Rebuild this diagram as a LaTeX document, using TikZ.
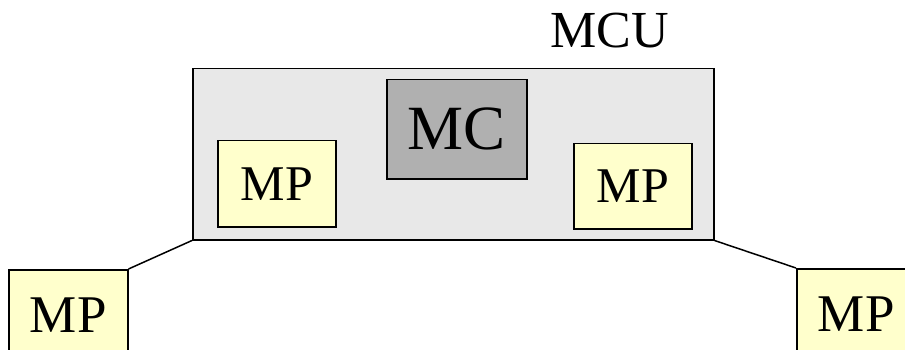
\documentclass[tikz,border=0pt]{standalone}
\usepackage{fontspec}
\setmainfont{Liberation Serif}
\definecolor{mcugray}{HTML}{E8E8E8}
\definecolor{mcgray}{HTML}{B0B0B0}
\definecolor{mpyellow}{HTML}{FFFFCC}
\begin{document}
\begin{tikzpicture}[x=1pt,y=-1pt,
  box/.style={draw,line width=1.5pt,inner sep=0pt,anchor=north west},
  mpbox/.style={box,fill=mpyellow},
  link/.style={line width=1.5pt}]
\useasboundingbox (0,0) rectangle (905,350);
\clip (0,0) rectangle (905,350);
\node[box,fill=mcugray,minimum width=521pt,minimum height=171pt] (mcu) at (192,68) {};
\node[anchor=base,font=\fontsize{52}{52}\selectfont] (mculabel) at (610,48) {MCU};
\node[box,fill=mcgray,minimum width=140pt,minimum height=99pt,font=\fontsize{63}{63}\selectfont] (mc) at (386,79) {MC};
\node[mpbox,minimum width=118pt,minimum height=86pt,font=\fontsize{50}{50}\selectfont] (mpl) at (217,140) {MP};
\node[mpbox,minimum width=118pt,minimum height=85pt,font=\fontsize{50}{50}\selectfont] (mpr) at (573,143) {MP};
\node[mpbox,minimum width=119pt,minimum height=91pt,font=\fontsize{53}{53}\selectfont] (outl) at (8,269) {MP};
\node[mpbox,minimum width=119pt,minimum height=91pt,font=\fontsize{53}{53}\selectfont] (outr) at (796,268) {MP};
\draw[link] (outl.north east) -- (mcu.south west);
\draw[link] (mcu.south east) -- (outr.north west);
\end{tikzpicture}
\end{document}
